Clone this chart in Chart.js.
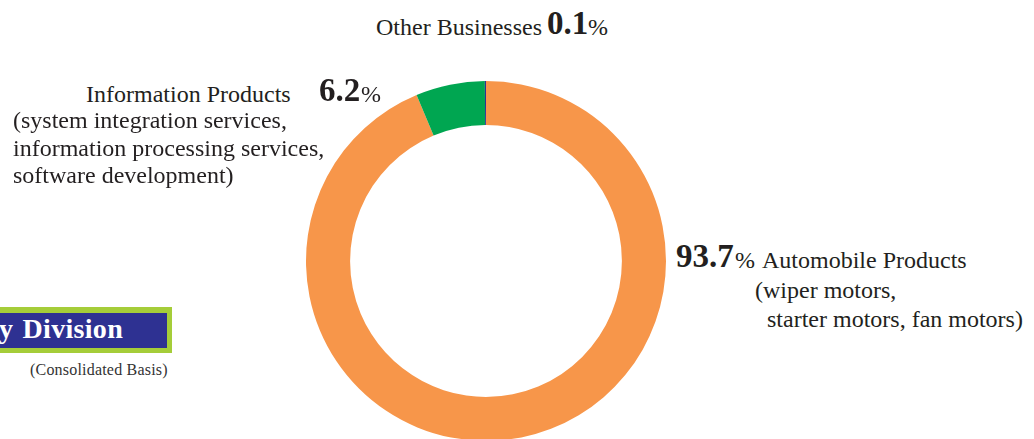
<!DOCTYPE html>
<html>
<head>
<meta charset="utf-8">
<script src="https://cdn.jsdelivr.net/npm/chart.js@4/dist/chart.umd.min.js"></script>
<style>
  html, body { margin:0; padding:0; width:1034px; height:439px; overflow:hidden; background:#fff; }
  .t { position:absolute; white-space:nowrap; line-height:1; font-family:"Liberation Serif","Times New Roman",serif; color:#231f20; }
  .b { font-weight:bold; }
  #wrap { position:absolute; left:306px; top:81px; width:360px; height:360px; }
</style>
</head>
<body>
<div id="wrap"><canvas id="c" width="360" height="360"></canvas></div>

<!-- banner -->
<div style="position:absolute;left:0;top:307px;width:172px;height:46px;background:#a5cd39;"></div>
<div style="position:absolute;left:0;top:313px;width:167px;height:35px;background:#2e3192;"></div>
<div class="t b" style="left:-1px;top:315px;font-size:28px;color:#fff;word-spacing:2px;letter-spacing:0.3px;">y Division</div>
<div class="t" style="left:30px;top:362px;font-size:16px;color:#333;letter-spacing:0.2px;">(Consolidated Basis)</div>

<!-- Other Businesses -->
<div class="t" style="left:376px;top:15px;font-size:24px;">Other Businesses</div>
<div class="t b" style="left:547px;top:7px;font-size:33px;">0.1</div>
<div class="t" style="left:588px;top:15px;font-size:24px;">%</div>

<!-- Information Products -->
<div class="t" style="left:86px;top:82px;font-size:24px;">Information Products</div>
<div class="t" style="left:13px;top:108px;font-size:24px;">(system integration services,</div>
<div class="t" style="left:13px;top:136px;font-size:24px;">information processing services,</div>
<div class="t" style="left:13px;top:163px;font-size:24px;">software development)</div>
<div class="t b" style="left:319px;top:74px;font-size:33px;">6.2</div>
<div class="t" style="left:361px;top:82px;font-size:24px;">%</div>

<!-- Automobile Products -->
<div class="t b" style="left:676px;top:240px;font-size:33px;">93.7</div>
<div class="t" style="left:735px;top:248px;font-size:24px;">%</div>
<div class="t" style="left:762px;top:248px;font-size:24px;">Automobile Products</div>
<div class="t" style="left:755px;top:278px;font-size:24px;">(wiper motors,</div>
<div class="t" style="left:767px;top:307px;font-size:24px;">starter motors, fan motors)</div>

<script>
const categories = ['Automobile Products', 'Information Products', 'Other Businesses'];
const shares = [93.7, 6.2, 0.1];
const sliceColors = ['#f7964a', '#00a651', '#2e3192'];

new Chart(document.getElementById('c'), {
  type: 'doughnut',
  data: {
    labels: categories,
    datasets: [{
      data: shares,
      backgroundColor: sliceColors,
      borderWidth: 0,
      hoverOffset: 0
    }]
  },
  options: {
    responsive: false,
    animation: false,
    cutout: '75.5%',
    layout: { padding: 0 },
    plugins: { legend: { display: false }, tooltip: { enabled: false } }
  }
});
</script>
</body>
</html>
